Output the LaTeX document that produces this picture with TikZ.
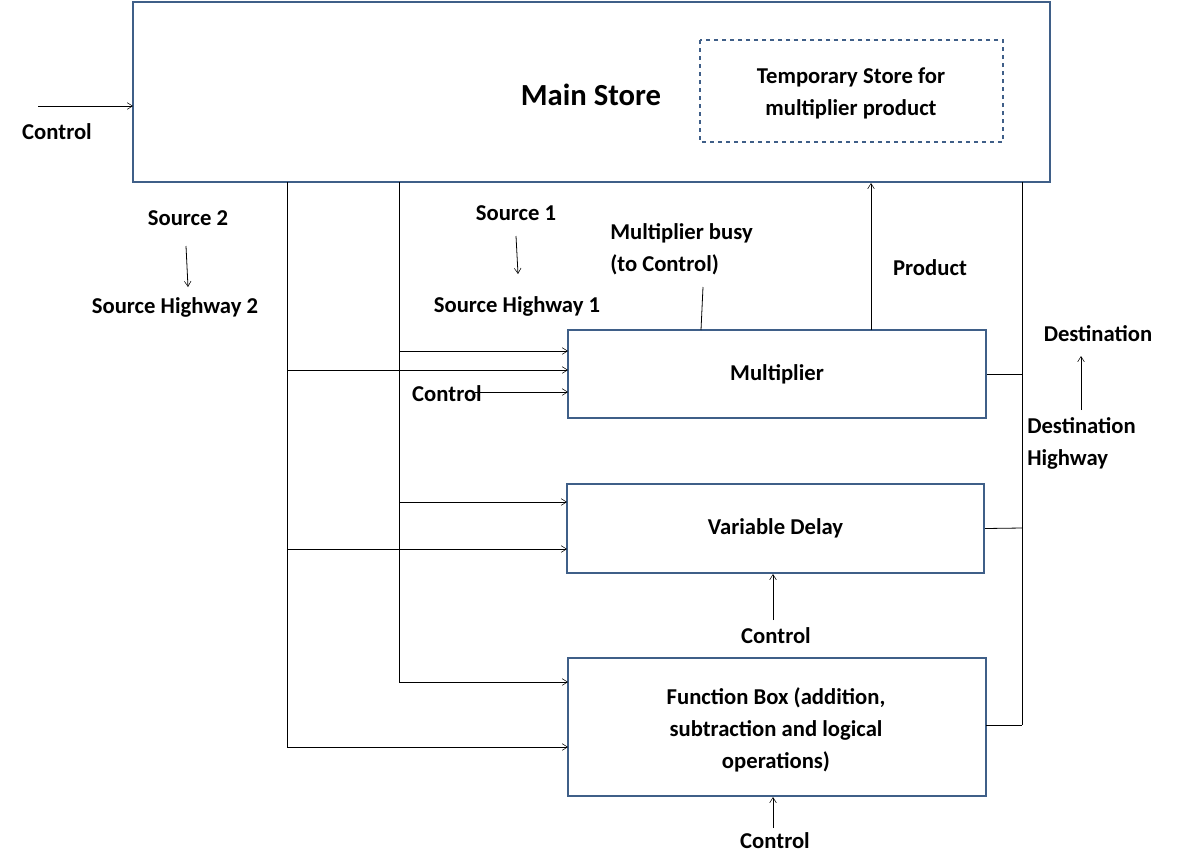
\documentclass[tikz,border=0pt]{standalone}
\usepackage{fontspec}
\setmainfont{Carlito}
\usetikzlibrary{arrows.meta}
\definecolor{bx}{HTML}{3F5F88}
\begin{document}
\begin{tikzpicture}[x=0.75pt,y=-0.75pt,
  box/.style={draw=bx,line width=1.8pt},
  ln/.style={draw=black,line width=0.6pt},
  ar/.style={ln,-{Straight Barb[length=4pt,width=5pt,line width=0.4pt]}},
  lbl/.style={font=\bfseries\fontsize{17}{20}\selectfont,inner sep=0pt,align=center}]
\useasboundingbox (0,0) rectangle (1185,865);
\draw[box] (133,2) rectangle (1050,182);
\node[lbl,font=\bfseries\fontsize{23}{26}\selectfont] (ms) at (591,95) {Main Store};
\draw[box,dashed,line width=1.4pt] (700,40) rectangle (1003,142);
\node[lbl] (ts) at (851,93) {Temporary Store for\\[4pt]multiplier product};
\coordinate (cl0) at (38,106); \coordinate (cl1) at (133,106);
\draw[ar] (cl0) -- (cl1);
\node[lbl] (ctl) at (57,132) {Control};
% buses
\draw[ln] (287,182) -- (287,747);
\draw[ln] (399,182) -- (399,682);
\draw[ln] (1022,182) -- (1022,725);
\node[lbl] (s2) at (188,218) {Source 2};
\node[lbl] (sh2) at (175,307) {Source Highway 2};
\draw[ar] (186,246) -- (188,287);
\node[lbl] (s1) at (516,213) {Source 1};
\node[lbl] (sh1) at (517,306) {Source Highway 1};
\draw[ar] (516,236) -- (518,274);
\node[lbl,align=left,anchor=west] (mb) at (610,249) {Multiplier busy\\[4pt](to Control)};
\node[lbl] (pr) at (930,268) {Product};
% multiplier
\node[box,minimum width=418*0.75pt,minimum height=88*0.75pt] (mul) at (777,374) {};
\node[lbl] at (mul) {Multiplier};
\draw[ar] (399,351) -- (568,351);
\draw[ar] (287,370) -- (568,370);
\node[lbl] (c1) at (447,394) {Control};
\draw[ar] (475,392) -- (568,392);
\draw[ln] (701,330) -- (703,287);
\draw[ar] (871,330) -- (871,183);
\draw[ln] (mul.east) -- (1022,374);
\node[lbl] (dst) at (1098,334) {Destination};
\draw[ar] (1081,410) -- (1081,356);
\node[lbl,align=left,anchor=west] (dh) at (1027,443) {Destination\\[4pt]Highway};
% variable delay
\node[box,minimum width=417*0.75pt,minimum height=89*0.75pt] (vd) at (775.5,528.5) {};
\node[lbl] at (vd) {Variable Delay};
\draw[ar] (399,502) -- (567,502);
\draw[ar] (287,549) -- (567,549);
\draw[ln] (vd.east) -- (1022,528);
\node[lbl] (c2) at (776,636) {Control};
\draw[ar] (773,620) -- (773,574);
% function box
\node[box,minimum width=418*0.75pt,minimum height=138*0.75pt] (fb) at (777,727) {};
\node[lbl] at (776,730) {Function Box (addition,\\[4pt]subtraction and logical\\[4pt]operations)};
\draw[ar] (399,682) -- (568,682);
\draw[ar] (287,747) -- (568,747);
\draw[ln] (986,725) -- (1022,725);
\node[lbl] (c3) at (775,841) {Control};
\draw[ar] (773,828) -- (773,797);
\end{tikzpicture}
\end{document}
